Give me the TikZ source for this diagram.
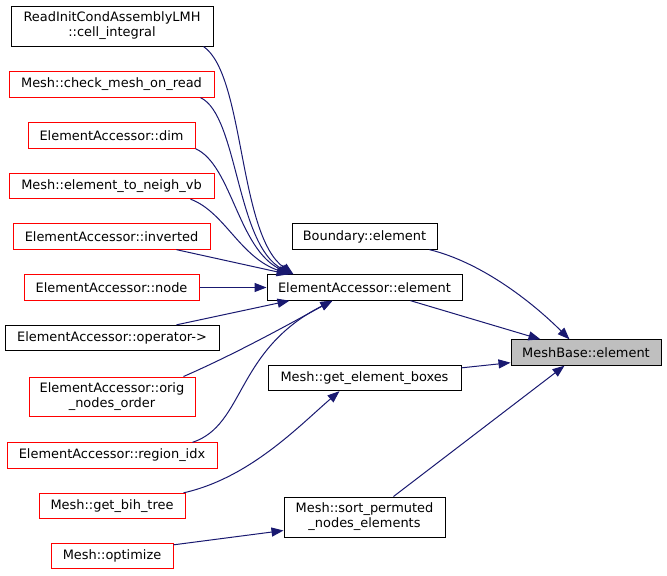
\documentclass[tikz,border=0pt]{standalone}
\usepackage{fontspec}
\setmainfont{DejaVu Sans}
\usetikzlibrary{arrows.meta,calc}
\definecolor{edgeblue}{HTML}{191970}
\definecolor{rootgray}{HTML}{BFBFBF}
\definecolor{cutred}{HTML}{FF0000}
\tikzset{%
    fnbox/.style={draw=black,line width=0.75pt,inner sep=0pt,minimum height=19pt,
        align=center,font=\fontsize{9.7pt}{11.3pt}\selectfont},
    cutbox/.style={fnbox,draw=cutred},
    calledge/.style={draw=edgeblue,line width=0.75pt,-{Triangle[length=9pt,width=6.8pt]}}
}
\begin{document}
\begin{tikzpicture}[x=0.75pt,y=-0.75pt]
            \useasboundingbox (0,0) rectangle (667,575);
            \node[fnbox,minimum width=151.5pt,minimum height=30pt] (rinit) at (112,26){ReadInitCondAssemblyLMH\\::cell\_integral};
            \node[cutbox,minimum width=153.75pt] (check) at (111.5,84.5){Mesh::check\_mesh\_on\_read};
            \node[cutbox,minimum width=125.25pt] (dim) at (111.5,135.5){ElementAccessor::dim};
            \node[cutbox,minimum width=153.75pt] (neigh) at (111.5,186){Mesh::element\_to\_neigh\_vb};
            \node[cutbox,minimum width=147.75pt] (inv) at (111.5,236.5){ElementAccessor::inverted};
            \node[cutbox,minimum width=131.25pt] (enode) at (111.5,287.5){ElementAccessor::node};
            \node[fnbox,minimum width=160.5pt] (oper) at (112,338){ElementAccessor::operator->};
            \node[cutbox,minimum width=124.5pt,minimum height=29.25pt] (orig) at (112,396.5){ElementAccessor::orig\\\_nodes\_order};
            \node[cutbox,minimum width=157.5pt] (region) at (112,455.5){ElementAccessor::region\_idx};
            \node[cutbox,minimum width=109.5pt] (bih) at (112,506){Mesh::get\_bih\_tree};
            \node[cutbox,minimum width=91.5pt] (optim) at (112,556){Mesh::optimize};
            \node[fnbox,minimum width=108.75pt] (bnd) at (364.5,236.5){Boundary::element};
            \node[fnbox,minimum width=146.25pt] (eael) at (364.5,287.5){ElementAccessor::element};
            \node[fnbox,minimum width=144.75pt] (boxes) at (364.5,378){Mesh::get\_element\_boxes};
            \node[fnbox,minimum width=120.75pt,minimum height=30pt] (sort) at (364.5,517){Mesh::sort\_permuted\\\_nodes\_elements};
            \node[fnbox,fill=rootgray,minimum width=112.5pt] (mbase) at (586,352.5){MeshBase::element};

            \draw[calledge] ($(rinit.south east)+(-10,0)$) .. controls (245,75) and (238,235) .. ($(eael.north west)+(27,0)$);
            \draw[calledge] ($(check.south east)+(-14,0)$) .. controls (238,115) and (236,245) .. ($(eael.north west)+(26,0)$);
            \draw[calledge] ($(dim.south east)+(0,0)$) .. controls (232,165) and (238,250) .. ($(eael.north west)+(25,0)$);
            \draw[calledge] ($(neigh.south east)+(-24,0)$) .. controls (225,212) and (240,258) .. ($(eael.north west)+(24,0)$);
            \draw[calledge] ($(inv.south east)+(-34,0)$) -- ($(eael.north west)+(22,0)$);
            \draw[calledge] (enode.east) -- (eael.west);
            \draw[calledge] ($(oper.north east)+(-43,0)$) -- ($(eael.south west)+(23,0)$);
            \draw[calledge] ($(orig.north east)+(-12,0)$) .. controls (240,352) and (300,318) .. ($(eael.south west)+(66,0)$);
            \draw[calledge] ($(region.north east)+(-25,0)$) .. controls (245,425) and (235,350) .. ($(eael.south west)+(66,0)$);
            \draw[calledge] ($(bih.north east)+(-2,0)$) .. controls (250,478) and (300,425) .. ($(boxes.south west)+(72,0)$);
            \draw[calledge] ($(optim.north east)+(0,2)$) -- ($(sort.south west)+(0,-7)$);
            \draw[calledge] ($(bnd.south east)+(-8,0)$) .. controls (480,262) and (530,300) .. ($(mbase.north west)+(59,0)$);
            \draw[calledge] ($(eael.south east)+(-52,0)$) -- ($(mbase.north west)+(30,0)$);
            \draw[calledge] ($(boxes.north east)+(0,3)$) -- ($(mbase.south west)+(0,-3)$);
            \draw[calledge] ($(sort.north east)+(-52,0)$) -- ($(mbase.south west)+(54,0)$);
        \end{tikzpicture}
\end{document}
